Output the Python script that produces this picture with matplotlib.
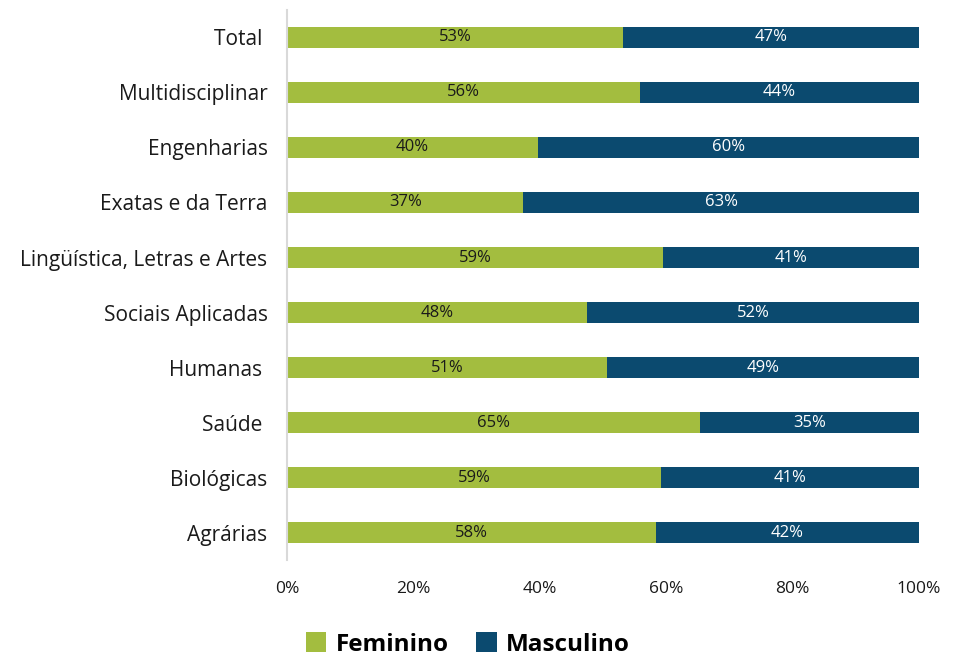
import matplotlib
matplotlib.use('Agg')
import matplotlib.pyplot as plt
import numpy as np

plt.rcParams['font.family'] = ['Open Sans', 'DejaVu Sans']

categorias = ['Total ', 'Multidisciplinar', 'Engenharias', 'Exatas e da Terra',
              'Lingüística, Letras e Artes', 'Sociais Aplicadas', 'Humanas ',
              'Saúde ', 'Biológicas', 'Agrárias']
feminino = [53.2, 55.9, 39.7, 37.4, 59.5, 47.5, 50.6, 65.3, 59.2, 58.4]
masculino = [100 - v for v in feminino]
rot_fem = ['53%', '56%', '40%', '37%', '59%', '48%', '51%', '65%', '59%', '58%']
rot_masc = ['47%', '44%', '60%', '63%', '41%', '52%', '49%', '35%', '41%', '42%']

cor_fem = '#A3BD3F'
cor_masc = '#0B4A6F'

fig = plt.figure(figsize=(9.57, 6.59), dpi=100)
ax = fig.add_axes([0.2999, 0.150, 0.6604, 0.835])

y = np.arange(len(categorias))
b1 = ax.barh(y, feminino, height=0.38, color=cor_fem, label='Feminino')
b2 = ax.barh(y, masculino, left=feminino, height=0.38, color=cor_masc, label='Masculino')

ax.bar_label(b1, labels=rot_fem, label_type='center', fontsize=12, color='#1a1a1a')
ax.bar_label(b2, labels=rot_masc, label_type='center', fontsize=12, color='white')

ax.set_ylim(len(categorias) - 0.5, -0.5)
ax.set_xlim(0, 100)
ax.set_yticks(y)
ax.set_yticklabels(categorias, fontsize=15, color='#1a1a1a')
ax.set_xticks(np.arange(0, 101, 20))
ax.set_xticklabels([f'{v}%' for v in range(0, 101, 20)], fontsize=12.5, color='#1a1a1a')
ax.tick_params(length=0)
ax.tick_params(axis='y', pad=14)
ax.tick_params(axis='x', pad=15)

for s in ['top', 'right', 'bottom']:
    ax.spines[s].set_visible(False)
ax.spines['left'].set_color('#D9D9D9')
ax.spines['left'].set_linewidth(1.5)

fig.legend(loc='center', bbox_to_anchor=(0.489, 0.022), ncol=2, frameon=False,
           prop={'weight': 'bold', 'size': 17.5}, handlelength=0.85, handleheight=0.85,
           handletextpad=0.4, columnspacing=1.1, borderaxespad=0)

fig.savefig('out.png', dpi=100)
